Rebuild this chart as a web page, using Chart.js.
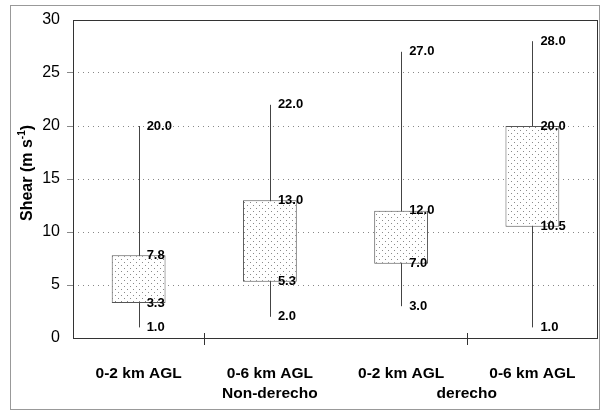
<!DOCTYPE html>
<html>
<head>
<meta charset="utf-8">
<script src="https://cdn.jsdelivr.net/npm/chart.js@4"></script>
<style>
  html, body { margin: 0; padding: 0; background: #fff; }
  #wrap { width: 602px; height: 412px; position: relative; }
</style>
</head>
<body>
<div id="wrap"><canvas id="chart" width="602" height="412"></canvas></div>
<script>
const categories = ["0-2 km AGL", "0-6 km AGL", "0-2 km AGL", "0-6 km AGL"];
const groups = ["Non-derecho", "derecho"];
const minValues = [1.0, 2.0, 3.0, 1.0];
const lowerValues = [3.3, 5.3, 7.0, 10.5];
const upperValues = [7.8, 13.0, 12.0, 20.0];
const maxValues = [20.0, 22.0, 27.0, 28.0];
const yTicks = [0, 5, 10, 15, 20, 25, 30];

const FONT = "'Liberation Sans', Arial, sans-serif";

// dotted fill like the scanned boxes
const makePattern = () => {
  const p = document.createElement("canvas");
  p.width = 6;
  p.height = 6;
  const pc = p.getContext("2d");
  pc.fillStyle = "#fff";
  pc.fillRect(0, 0, 6, 6);
  pc.fillStyle = "#8a8a8a";
  pc.fillRect(1, 1, 1, 1);
  pc.fillRect(4, 4, 1, 1);
  return pc.createPattern(p, "repeat");
};

const ctx = document.getElementById("chart").getContext("2d");
const dots = makePattern();

const fmt = (v) => v.toFixed(1);

const whiskers = {
  id: "whiskers",
  beforeDatasetsDraw: (chart) => {
    const { ctx, scales: { x, y } } = chart;
    ctx.save();
    ctx.strokeStyle = "#444";
    ctx.lineWidth = 1;
    categories.forEach((c, i) => {
      const px = Math.round(x.getPixelForValue(i)) + 0.5;
      ctx.beginPath();
      ctx.moveTo(px, y.getPixelForValue(minValues[i]));
      ctx.lineTo(px, y.getPixelForValue(maxValues[i]));
      ctx.stroke();
    });
    ctx.restore();
  },
  afterDatasetsDraw: (chart) => {
    const { ctx, scales: { x, y } } = chart;
    ctx.save();
    ctx.fillStyle = "#000";
    ctx.font = "bold 13px " + FONT;
    ctx.textAlign = "left";
    ctx.textBaseline = "middle";
    categories.forEach((c, i) => {
      const px = x.getPixelForValue(i) + 8;
      [minValues, lowerValues, upperValues, maxValues].forEach((arr) => {
        ctx.fillText(fmt(arr[i]), px, y.getPixelForValue(arr[i]));
      });
    });
    ctx.restore();
  },
  afterDraw: (chart) => {
    const { ctx, chartArea: a, scales: { x, y } } = chart;
    ctx.save();
    // frame of the plot
    ctx.strokeStyle = "#333";
    ctx.lineWidth = 1;
    ctx.strokeRect(Math.round(a.left) + 0.5, Math.round(a.top) + 0.5,
      Math.round(a.right - a.left) - 1, Math.round(a.bottom - a.top));
    // tick marks between some categories
    [0.5, 2.5].forEach((v) => {
      const px = Math.round(x.getPixelForValue(v)) + 0.5;
      ctx.beginPath();
      ctx.moveTo(px, a.bottom - 5);
      ctx.lineTo(px, a.bottom + 7);
      ctx.stroke();
    });
    // group labels
    ctx.fillStyle = "#000";
    ctx.font = "bold 15.5px " + FONT;
    ctx.textAlign = "center";
    ctx.textBaseline = "middle";
    ctx.fillText(groups[0], x.getPixelForValue(1), 394);
    ctx.fillText(groups[1], x.getPixelForValue(2.5), 394);
    // y title with superscript
    ctx.translate(28, 173);
    ctx.rotate(-Math.PI / 2);
    ctx.textAlign = "left";
    const t1 = "Shear (m s";
    const t2 = "-1";
    const t3 = ")";
    ctx.font = "bold 16px " + FONT;
    const w1 = ctx.measureText(t1).width;
    const w3 = ctx.measureText(t3).width;
    ctx.font = "bold 10px " + FONT;
    const w2 = ctx.measureText(t2).width;
    let sx = -(w1 + w2 + w3) / 2;
    ctx.font = "bold 16px " + FONT;
    ctx.fillText(t1, sx, 0);
    ctx.font = "bold 10px " + FONT;
    ctx.fillText(t2, sx + w1, -6);
    ctx.font = "bold 16px " + FONT;
    ctx.fillText(t3, sx + w1 + w2, 0);
    ctx.restore();
    // outer scanned frame
    ctx.save();
    ctx.strokeStyle = "#999";
    ctx.strokeRect(10.5, 5.5, 589, 404);
    ctx.restore();
  },
};

new Chart(ctx, {
  type: "bar",
  data: {
    labels: categories,
    datasets: [
      {
        data: categories.map((c, i) => [lowerValues[i], upperValues[i]]),
        backgroundColor: dots,
        borderColor: "#555",
        borderWidth: 1,
        borderSkipped: false,
        categoryPercentage: 1,
        barPercentage: 0.41,
      },
    ],
  },
  plugins: [whiskers],
  options: {
    responsive: false,
    animation: false,
    layout: {
      padding: { top: 20, right: 4, bottom: 0, left: 0 },
    },
    scales: {
      x: {
        grid: { display: false },
        border: { display: false },
        ticks: {
          color: "#000",
          font: { family: FONT, size: 15.5, weight: "bold" },
          padding: 18,
          maxRotation: 0,
        },
        afterFit: (scale) => {
          scale.height = 74;
        },
      },
      y: {
        min: 0,
        max: 30,
        afterBuildTicks: (scale) => {
          scale.ticks = yTicks.map((v) => ({ value: v }));
        },
        grid: {
          color: (c) =>
            c.tick && (c.tick.value === 0 || c.tick.value === 30)
              ? "rgba(0,0,0,0)"
              : "#888",
          lineWidth: 1,
          drawTicks: true,
          tickLength: 6,
        },
        border: { display: false, dash: [1, 4] },
        ticks: {
          color: "#000",
          font: { family: FONT, size: 16 },
          padding: 7,
        },
        afterFit: (scale) => {
          scale.width = 73;
        },
      },
    },
    plugins: {
      legend: { display: false },
      tooltip: { enabled: false },
    },
  },
});
</script>
</body>
</html>
